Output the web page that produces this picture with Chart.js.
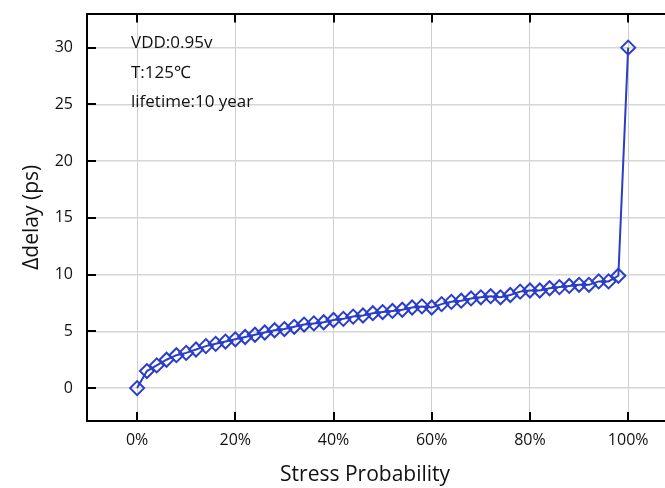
<!DOCTYPE html>
<html>
<head>
<meta charset="utf-8">
<script src="https://cdn.jsdelivr.net/npm/chart.js@4.4.1/dist/chart.umd.min.js"></script>
<style>
  html, body { margin: 0; padding: 0; background: #fff; overflow: hidden; }
  #wrap { width: 665px; height: 488px; overflow: hidden; }
  #delayChart { display: block; margin-top: -10px; }
</style>
</head>
<body>
<div id="wrap"><canvas id="delayChart" width="665" height="498"></canvas></div>
<script>
// stress probability (%) and delay shift (ps)
var probability = [0, 2, 4, 6, 8, 10, 12, 14, 16, 18, 20, 22, 24, 26, 28, 30, 32, 34, 36, 38,
    40, 42, 44, 46, 48, 50, 52, 54, 56, 58, 60, 62, 64, 66, 68, 70, 72, 74, 76, 78,
    80, 82, 84, 86, 88, 90, 92, 94, 96, 98, 100];
var delay = [0, 1.5, 2.0, 2.5, 2.9, 3.1, 3.4, 3.7, 3.9, 4.1, 4.3, 4.5, 4.7, 4.9, 5.1, 5.2, 5.4, 5.6, 5.7, 5.8,
    6.0, 6.1, 6.3, 6.4, 6.6, 6.7, 6.8, 6.9, 7.1, 7.2, 7.1, 7.4, 7.6, 7.7, 7.9, 8.0, 8.1, 8.0, 8.2, 8.5,
    8.6, 8.6, 8.8, 8.9, 9.0, 9.1, 9.1, 9.4, 9.4, 9.9, 30];
var xTicks = [0, 20, 40, 60, 80, 100];
var yTicks = [0, 5, 10, 15, 20, 25, 30];
var notes = ['VDD:0.95v', 'T:125\u2103', 'lifetime:10 year'];

var points = probability.map(function (p, i) { return { x: p, y: delay[i] }; });
var blue = 'rgb(42, 62, 200)';
var font = '"Open Sans", "Noto Sans", sans-serif';

// inner tick marks plus the text block
var decor = {
    id: 'decor',
    afterDraw: function (chart) {
        var ctx = chart.ctx;
        var area = chart.chartArea;
        var xs = chart.scales.x;
        var ys = chart.scales.y;
        ctx.save();
        ctx.strokeStyle = '#000';
        ctx.lineWidth = 2;
        ctx.beginPath();
        xTicks.forEach(function (v) {
            var px = Math.round(xs.getPixelForValue(v));
            ctx.moveTo(px, area.bottom);
            ctx.lineTo(px, area.bottom - 9);
            ctx.moveTo(px, area.top);
            ctx.lineTo(px, area.top + 9);
        });
        yTicks.forEach(function (v) {
            var py = Math.round(ys.getPixelForValue(v));
            ctx.moveTo(area.left, py);
            ctx.lineTo(area.left + 9, py);
        });
        ctx.stroke();

        ctx.fillStyle = '#111';
        ctx.font = '17px ' + font;
        ctx.textBaseline = 'middle';
        ctx.textAlign = 'left';
        notes.forEach(function (t, i) {
            ctx.fillText(t, 131, area.top + 30 + i * 29.5);
        });
        ctx.restore();
    }
};

var ctx = document.getElementById('delayChart').getContext('2d');
var delayChart = new Chart(ctx, {
    type: 'line',
    data: {
        datasets: [{
            data: points,
            borderColor: blue,
            borderWidth: 2,
            backgroundColor: 'transparent',
            pointStyle: 'rectRot',
            pointRadius: 7,
            pointBorderWidth: 2,
            pointBorderColor: blue,
            pointBackgroundColor: 'transparent',
            tension: 0,
            clip: false
        }]
    },
    options: {
        responsive: false,
        animation: false,
        layout: { padding: { left: 19, right: 0, top: 0, bottom: 0 }, autoPadding: false },
        plugins: {
            legend: { display: false },
            tooltip: { enabled: false }
        },
        scales: {
            x: {
                type: 'linear',
                position: 'bottom',
                min: -10.2,
                max: 107.5,
                afterBuildTicks: function (s) { s.ticks = xTicks.map(function (v) { return { value: v }; }); },
                afterFit: function (s) { s.height = 67; },
                ticks: {
                    padding: 10,
                    color: '#111',
                    font: { size: 16, family: font },
                    maxRotation: 0,
                    callback: function (v) { return v + '%'; }
                },
                grid: { color: '#cfcfcf', lineWidth: 1, drawTicks: false },
                border: { color: '#000', width: 2 },
                title: {
                    display: true,
                    text: 'Stress Probability    ',
                    color: '#111',
                    font: { size: 21, family: font },
                    padding: { top: 7, bottom: 0 }
                }
            },
            xTop: {
                type: 'linear',
                position: 'top',
                min: -10.2,
                max: 107.5,
                afterBuildTicks: function (s) { s.ticks = xTicks.map(function (v) { return { value: v }; }); },
                afterFit: function (s) { s.height = 2; },
                ticks: { display: false },
                grid: { display: false, drawTicks: false },
                border: { display: true, color: '#000', width: 2 }
            },
            y: {
                min: -2.9,
                max: 33,
                afterBuildTicks: function (s) { s.ticks = yTicks.map(function (v) { return { value: v }; }); },
                afterFit: function (s) { s.width = 68; },
                ticks: {
                    padding: 14,
                    color: '#111',
                    font: { size: 16, family: font }
                },
                grid: { color: '#d6d6d6', lineWidth: 1.5, drawTicks: false },
                border: { color: '#000', width: 2 },
                title: {
                    display: true,
                    text: '\u0394delay (ps)',
                    color: '#111',
                    font: { size: 21, family: font },
                    padding: { top: 0, bottom: 8 }
                }
            }
        }
    },
    plugins: [decor]
});
</script>
</body>
</html>
